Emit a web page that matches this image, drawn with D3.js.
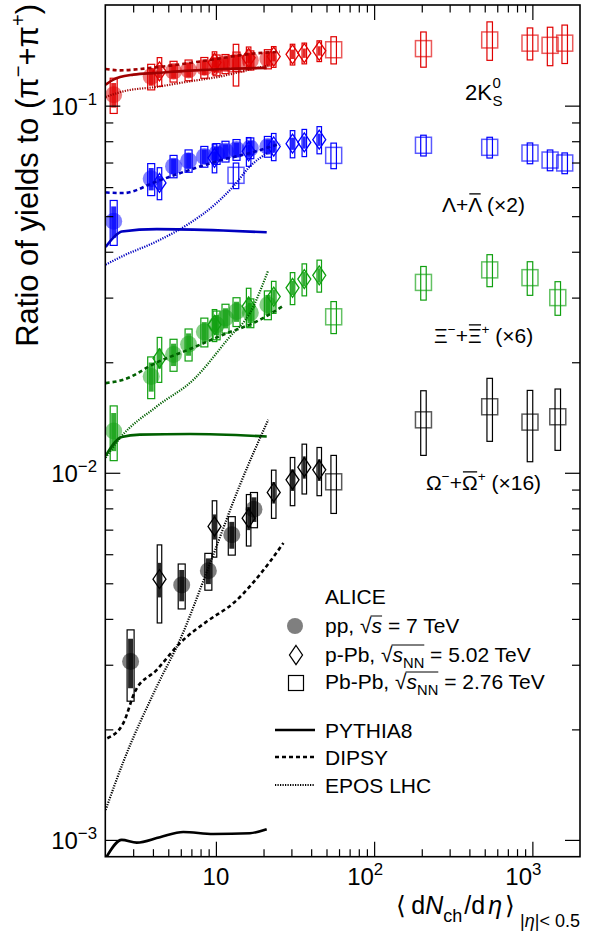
<!DOCTYPE html>
<html>
<head>
<meta charset="utf-8">
<script src="https://cdn.jsdelivr.net/npm/d3@7"></script>
<style>
  body { margin: 0; background: #fff; }
  svg { display: block; font-family: "Liberation Sans", Arial, Helvetica, sans-serif; }
</style>
</head>
<body>
<svg id="chart" width="592" height="936"></svg>
<script>
// ---------- multiplicity classes, <dNch/deta> at |eta| < 0.5 ----------
const ppMult      = [2.26, 3.90, 5.40, 6.72, 8.45, 10.1, 11.5, 13.5, 16.5, 21.3];
const ppMultOmega = [2.89, 6.08, 8.96, 12.6, 17.4];
const pPbMult     = [4.4, 9.8, 16.1, 23.2, 30.5, 36.2, 45.0];
const PbPbMultV0  = [13.4, 55.5, 205, 537.5, 966, 1294, 1601];
const PbPbMultMS  = [55.5, 205, 537.5, 966, 1447.5];

// ---------- yield ratios to (pi- + pi+), scale factors of the labels applied ----------
// values, and total systematic uncertainty (relative)
const k0sPP       = [0.107, 0.120, 0.124, 0.125, 0.127, 0.129, 0.130, 0.132, 0.133, 0.134];
const k0sPPSys    = [0.11, 0.08, 0.065, 0.065, 0.065, 0.065, 0.06, 0.06, 0.06, 0.06];
const k0sPPb      = [0.124, 0.131, 0.135, 0.136, 0.138, 0.139, 0.141];
const k0sPPbSys   = [0.09, 0.07, 0.07, 0.065, 0.065, 0.065, 0.065];
const k0sPbPb     = [0.130, 0.142, 0.143, 0.151, 0.148, 0.146, 0.148];
const k0sPbPbSys  = [0.13, 0.085, 0.11, 0.12, 0.10, 0.12, 0.12];

const lamPP       = [0.0484, 0.0632, 0.0684, 0.0708, 0.0727, 0.0740, 0.0751, 0.0759, 0.0767, 0.0774];
const lamPPSys    = [0.14, 0.10, 0.07, 0.07, 0.065, 0.065, 0.065, 0.065, 0.065, 0.065];
const lamPPb      = [0.0616, 0.0721, 0.0751, 0.0774, 0.0788, 0.0794, 0.0808];
const lamPPbSys   = [0.10, 0.09, 0.09, 0.085, 0.085, 0.085, 0.085];
const lamPbPb     = [0.0646, 0.0732, 0.0780, 0.0770, 0.0743, 0.0711, 0.0698];
const lamPbPbSys  = [0.08, 0.08, 0.065, 0.065, 0.065, 0.065, 0.065];

const xiPP        = [0.0130, 0.0183, 0.0210, 0.0224, 0.0242, 0.0253, 0.0264, 0.0275, 0.0273, 0.0287];
const xiPPSys     = [0.17, 0.13, 0.10, 0.10, 0.09, 0.09, 0.09, 0.09, 0.09, 0.09];
const xiPPb       = [0.0205, 0.0253, 0.0284, 0.0302, 0.0319, 0.0337, 0.0345];
const xiPPbSys    = [0.14, 0.10, 0.12, 0.10, 0.10, 0.10, 0.10];
const xiPbPb      = [0.0266, 0.0330, 0.0357, 0.0340, 0.0300];
const xiPbPbSys   = [0.10, 0.105, 0.10, 0.105, 0.105];

const omPP        = [0.00306, 0.00495, 0.00541, 0.00678, 0.00796];
const omPPSys     = [0.22, 0.14, 0.115, 0.12, 0.11];
const omPPb       = [0.00513, 0.00714, 0.00752, 0.00884, 0.00957, 0.01036, 0.01019];
const omPPbSys    = [0.24, 0.175, 0.16, 0.15, 0.15, 0.155, 0.15];
const omPbPb      = [0.00945, 0.01394, 0.01513, 0.01374, 0.01421];
const omPbPbSys   = [0.18, 0.20, 0.195, 0.22, 0.19];

// share of the systematic uncertainty that is uncorrelated across multiplicity
const uncorrShare = { pp: 0.7, pPb: 0.45 };

// ---------- model predictions for pp: [dNch/deta, ratio] ----------
const pythiaK0S = [[2.01,0.1141],[2.25,0.1177],[2.48,0.1197],[3.01,0.1215],[4.23,0.1228],[6.86,0.1246],[11.1,0.1259],[20.95,0.1267]];
const dipsyK0S  = [[2.01,0.1259],[2.48,0.1248],[3.87,0.1267],[6.86,0.1307],[11.1,0.1349],[16.4,0.1383],[25.4,0.1401]];
const eposK0S   = [[2.01,0.1056],[2.60,0.1094],[4.23,0.1125],[6.86,0.1165],[10.3,0.1197],[16.4,0.1254],[21.4,0.1285]];

const pythiaLam = [[2.01,0.0412],[2.25,0.0437],[2.54,0.0454],[4.23,0.0461],[11.1,0.0457],[20.95,0.0452]];
const dipsyLam  = [[2.01,0.0580],[2.60,0.0578],[4.23,0.0622],[6.86,0.0669],[11.1,0.0713],[16.4,0.0743],[25.4,0.0788]];
const eposLam   = [[2.01,0.0369],[2.60,0.0390],[4.23,0.0427],[6.86,0.0479],[10.1,0.0543],[12.9,0.0603],[16.4,0.0683],[21.4,0.0746]];

const pythiaXi  = [[2.01,0.01112],[2.54,0.01252],[3.31,0.01270],[6.86,0.01275],[20.95,0.01256]];
const dipsyXi   = [[2.01,0.01755],[2.60,0.01792],[4.23,0.01998],[6.86,0.02173],[11.1,0.02377],[18.1,0.02584],[26.7,0.0285]];
const eposXi    = [[2.01,0.01099],[2.48,0.01244],[4.23,0.01516],[7.20,0.01792],[12.3,0.02352],[16.4,0.02723],[21.4,0.03557]];

const pythiaOm  = [[2.04,0.00090],[2.54,0.00100],[3.16,0.000983],[4.43,0.001017],[6.22,0.001051],[9.63,0.001038],[16.4,0.001043],[20.95,0.001069]];
const dipsyOm   = [[2.06,0.001892],[2.60,0.00208],[3.08,0.002535],[4.23,0.002905],[5.93,0.003436],[8.75,0.003934],[12.9,0.004416],[22.0,0.005733],[26.7,0.006434]];
const eposOm    = [[2.01,0.001207],[2.60,0.001632],[4.23,0.002617],[5.93,0.003508],[8.96,0.005509],[14.2,0.009275],[21.4,0.01394]];

// ---------- axis ticks ----------
const xMajor = [10, 100, 1000];
const xMinor = [3,4,5,6,7,8,9, 20,30,40,50,60,70,80,90, 200,300,400,500,600,700,800,900];
const yMajor = [0.001, 0.01, 0.1];
const yMinor = [0.002,0.003,0.004,0.005,0.006,0.007,0.008,0.009,
                0.02,0.03,0.04,0.05,0.06,0.07,0.08,0.09];
const xTickLabels = [["10", ""], ["10", "2"], ["10", "3"]];
const yTickLabels = [["10", "\u22123"], ["10", "\u22122"], ["10", "\u22121"]];

// ---------- layout ----------
const L = 105.3, R = 580, T = 5, B = 856.7;
const svg = d3.select("#chart");
const x = d3.scaleLog().domain([2, 2000]).range([L, R]);
const y = d3.scaleLog().domain([0.0009, 0.188]).range([B, T]);

svg.append("defs").append("clipPath").attr("id", "frame")
  .append("rect").attr("x", L).attr("y", T).attr("width", R - L).attr("height", B - T);

// text with super/subscripts built from tspans
function richText(parent, px, py, parts, size, anchor) {
  const t = parent.append("text").attr("x", px).attr("y", py)
    .attr("font-size", size).attr("text-anchor", anchor || "start").attr("fill", "#000");
  let cur = 0, idx = 0;
  const marks = {};
  parts.forEach(p => {
    const off = p.sup ? -size * (p.up || 0.42) : p.sub ? size * (p.down || 0.3) : 0;
    const ts = t.append("tspan").attr("dy", off - cur).text(p.t);
    cur = off;
    if (p.sup || p.sub) ts.attr("font-size", size * (p.k || 0.72));
    if (p.it) ts.attr("font-style", "italic");
    if (p.dx) ts.attr("dx", p.dx);
    if (p.mark) marks[p.mark] = [idx, idx + p.t.length - 1];
    idx += p.t.length;
  });
  return { t, marks };
}
function barOver(parent, res, mark, yLine) {
  const [a, b] = res.marks[mark];
  const n = res.t.node();
  const e1 = n.getExtentOfChar(a), e2 = n.getExtentOfChar(b);
  parent.append("line").attr("x1", e1.x + 1).attr("x2", e2.x + e2.width - 0.5)
    .attr("y1", yLine).attr("y2", yLine).attr("stroke", "#000").attr("stroke-width", 1.3);
}

// ---------- species ----------
const speciesList = [
  { color: "#e00000", model: "#a00000",
    pp:   { x: ppMult,     y: k0sPP,   s: k0sPPSys },
    pPb:  { x: pPbMult,    y: k0sPPb,  s: k0sPPbSys },
    PbPb: { x: PbPbMultV0, y: k0sPbPb, s: k0sPbPbSys },
    pythia: pythiaK0S, dipsy: dipsyK0S, epos: eposK0S },
  { color: "#0000ff", model: "#0000c0",
    pp:   { x: ppMult,     y: lamPP,   s: lamPPSys },
    pPb:  { x: pPbMult,    y: lamPPb,  s: lamPPbSys },
    PbPb: { x: PbPbMultV0, y: lamPbPb, s: lamPbPbSys },
    pythia: pythiaLam, dipsy: dipsyLam, epos: eposLam },
  { color: "#10a010", model: "#006000",
    pp:   { x: ppMult,     y: xiPP,    s: xiPPSys },
    pPb:  { x: pPbMult,    y: xiPPb,   s: xiPPbSys },
    PbPb: { x: PbPbMultMS, y: xiPbPb,  s: xiPbPbSys },
    pythia: pythiaXi, dipsy: dipsyXi, epos: eposXi },
  { color: "#000000", model: "#000000",
    pp:   { x: ppMultOmega, y: omPP,   s: omPPSys },
    pPb:  { x: pPbMult,     y: omPPb,  s: omPPbSys },
    PbPb: { x: PbPbMultMS,  y: omPbPb, s: omPbPbSys },
    pythia: pythiaOm, dipsy: dipsyOm, epos: eposOm }
];

const plot = svg.append("g").attr("clip-path", "url(#frame)");

function boxes(g, ser, w, color, share, filled) {
  const idx = d3.range(ser.x.length);
  g.append("g").selectAll("rect").data(idx).join("rect")
    .attr("x", i => x(ser.x[i]) - w / 2)
    .attr("y", i => y(ser.y[i] * (1 + ser.s[i] * share)))
    .attr("width", w)
    .attr("height", i => y(ser.y[i] * (1 - ser.s[i] * share)) - y(ser.y[i] * (1 + ser.s[i] * share)))
    .attr("fill", filled ? color : "none")
    .attr("fill-opacity", filled ? 0.85 : null)
    .attr("stroke", filled ? "none" : color)
    .attr("stroke-width", 1.2);
}

const diamondPath = "M0,-9.5L6.5,0L0,9.5L-6.5,0Z";
const line = d3.line().x(d => x(d[0])).y(d => y(d[1])).curve(d3.curveMonotoneX);

speciesList.forEach(sp => {
  const g = plot.append("g");

  // pp: translucent full circles + boxes
  g.append("g").selectAll("circle").data(d3.range(sp.pp.x.length)).join("circle")
    .attr("cx", i => x(sp.pp.x[i])).attr("cy", i => y(sp.pp.y[i])).attr("r", 8.5)
    .attr("fill", sp.color).attr("fill-opacity", 0.5);
  boxes(g, sp.pp, 7, sp.color, 1, false);
  boxes(g, sp.pp, 5, sp.color, uncorrShare.pp, true);

  // p-Pb: open diamonds + narrow boxes
  boxes(g, sp.pPb, 4.5, sp.color, 1, false);
  boxes(g, sp.pPb, 3, sp.color, uncorrShare.pPb, true);
  g.append("g").selectAll("path").data(d3.range(sp.pPb.x.length)).join("path")
    .attr("transform", i => `translate(${x(sp.pPb.x[i])},${y(sp.pPb.y[i])})`)
    .attr("d", diamondPath).attr("fill", "none").attr("stroke", sp.color).attr("stroke-width", 1.3);

  // Pb-Pb: open squares + boxes
  boxes(g, sp.PbPb, 5.5, sp.color, 1, false);
  g.append("g").selectAll("rect").data(d3.range(sp.PbPb.x.length)).join("rect")
    .attr("x", i => x(sp.PbPb.x[i]) - 8).attr("y", i => y(sp.PbPb.y[i]) - 8)
    .attr("width", 16).attr("height", 16)
    .attr("fill", "none").attr("stroke", sp.color).attr("stroke-opacity", 0.65).attr("stroke-width", 1.5);

  // models
  g.append("path").attr("d", line(sp.pythia)).attr("fill", "none")
    .attr("stroke", sp.model).attr("stroke-width", 2.6);
  g.append("path").attr("d", line(sp.dipsy)).attr("fill", "none")
    .attr("stroke", sp.model).attr("stroke-width", 2.6).attr("stroke-dasharray", "4,3");
  g.append("path").attr("d", line(sp.epos)).attr("fill", "none")
    .attr("stroke", sp.model).attr("stroke-width", 2.2).attr("stroke-dasharray", "1.2,1.3");
});

// ---------- frame and ticks ----------
const axes = svg.append("g");
function tickAxis(gen, tx, ty, vals, size) {
  const a = axes.append("g").attr("transform", `translate(${tx},${ty})`)
    .call(gen.tickValues(vals).tickSize(-size).tickFormat(""));
  a.select(".domain").remove();
  a.selectAll("line").attr("stroke", "#000").attr("stroke-width", 1.2);
}
tickAxis(d3.axisBottom(x), 0, B, xMajor, 15);
tickAxis(d3.axisBottom(x), 0, B, xMinor, 7.5);
tickAxis(d3.axisTop(x), 0, T, xMajor, 15);
tickAxis(d3.axisTop(x), 0, T, xMinor, 7.5);
tickAxis(d3.axisLeft(y), L, 0, yMajor, 15);
tickAxis(d3.axisLeft(y), L, 0, yMinor, 8);
tickAxis(d3.axisRight(y), R, 0, yMajor, 15);
tickAxis(d3.axisRight(y), R, 0, yMinor, 8);

svg.append("rect").attr("x", L).attr("y", T).attr("width", R - L).attr("height", B - T)
  .attr("fill", "none").attr("stroke", "#000").attr("stroke-width", 1.6);

// tick labels
const labels = svg.append("g");
xMajor.forEach((v, i) => {
  const [base, exp] = xTickLabels[i];
  if (exp === "") richText(labels, x(v), 885, [{ t: base }], 24, "middle");
  else richText(labels, x(v) - 27, 885, [{ t: base }, { t: exp, sup: true, k: 0.7 }], 24, "start");
});
yMajor.forEach((v, i) => {
  const [base, exp] = yTickLabels[i];
  richText(labels, 97, y(v) + 9, [{ t: base }, { t: exp, sup: true, k: 0.7 }], 24, "end");
});

// axis titles
const yTitle = svg.append("g").attr("transform", "translate(38,4) rotate(-90)");
richText(yTitle, 0, 0, [
  { t: "Ratio of yields to (\u03C0" }, { t: "\u2212", sup: true, k: 0.65 },
  { t: "+\u03C0" }, { t: "+", sup: true, k: 0.65 }, { t: ")" }
], 31, "end");

richText(svg, 580, 914, [
  { t: "\u27E8" }, { t: "d", dx: 5 }, { t: "N", it: true }, { t: "ch", sub: true, k: 0.72 },
  { t: "/d", dx: 2 }, { t: "\u03B7", it: true, dx: 3 }, { t: "\u27E9", dx: 3 },
  { t: "|", sub: true, k: 0.72, down: 0.5, dx: 5 }, { t: "\u03B7", sub: true, it: true, k: 0.72, down: 0.5 },
  { t: "|< 0.5", sub: true, k: 0.72, down: 0.5 }
], 25, "end");

// ---------- species labels ----------
const spLab = svg.append("g");
{
  const r = richText(spLab, 465, 100, [{ t: "2K" }], 22, "start");
  const w = r.t.node().getComputedTextLength();
  richText(spLab, 465 + w + 0.5, 88, [{ t: "0" }], 15, "start");
  richText(spLab, 465 + w + 0.5, 106, [{ t: "S" }], 15, "start");
}
{
  const r = richText(spLab, 442, 212, [
    { t: "\u039B+" }, { t: "\u039B", mark: "bar" }, { t: " (\u00D72)" }
  ], 21, "start");
  barOver(spLab, r, "bar", 212 - 21 * 0.72 - 3);
}
{
  const r = richText(spLab, 434, 343, [
    { t: "\u039E" }, { t: "\u2212", sup: true, k: 0.65 }, { t: "+" },
    { t: "\u039E", mark: "bar" }, { t: "+", sup: true, k: 0.65 }, { t: " (\u00D76)" }
  ], 21, "start");
  barOver(spLab, r, "bar", 343 - 21 * 0.72 - 3);
}
{
  const r = richText(spLab, 426, 490, [
    { t: "\u03A9" }, { t: "\u2212", sup: true, k: 0.65 }, { t: "+" },
    { t: "\u03A9", mark: "bar" }, { t: "+", sup: true, k: 0.65 }, { t: " (\u00D716)" }
  ], 21, "start");
  barOver(spLab, r, "bar", 490 - 21 * 0.72 - 3);
}

// ---------- legend ----------
const leg = svg.append("g");
const LX = 325, FS = 21;
richText(leg, LX, 604, [{ t: "ALICE" }], FS);

function radicalBar(r, baseY) {
  const n = r.t.node();
  const e1 = n.getExtentOfChar(r.marks.rad[0]), e2 = n.getExtentOfChar(r.marks.arg[1]);
  leg.append("line").attr("x1", e1.x + e1.width - 1).attr("x2", e2.x + e2.width)
    .attr("y1", baseY - 17).attr("y2", baseY - 17).attr("stroke", "#000").attr("stroke-width", 1);
}

leg.append("circle").attr("cx", 295).attr("cy", 626).attr("r", 8).attr("fill", "#000").attr("fill-opacity", 0.5);
radicalBar(richText(leg, LX, 633, [{ t: "pp, " }, { t: "\u221A", mark: "rad" },
  { t: "s", it: true, mark: "arg" }, { t: " = 7 TeV" }], FS), 633);

leg.append("path").attr("transform", "translate(296,655)").attr("d", diamondPath)
  .attr("fill", "none").attr("stroke", "#000").attr("stroke-width", 1.3);
radicalBar(richText(leg, LX, 662, [{ t: "p-Pb, " }, { t: "\u221A", mark: "rad" }, { t: "s", it: true },
  { t: "NN", sub: true, k: 0.7, mark: "arg" }, { t: " = 5.02 TeV" }], FS), 662);

leg.append("rect").attr("x", 288.5).attr("y", 675.5).attr("width", 15).attr("height", 15)
  .attr("fill", "none").attr("stroke", "#000").attr("stroke-width", 1.2);
radicalBar(richText(leg, LX, 689, [{ t: "Pb-Pb, " }, { t: "\u221A", mark: "rad" }, { t: "s", it: true },
  { t: "NN", sub: true, k: 0.7, mark: "arg" }, { t: " = 2.76 TeV" }], FS), 689);

const modelLegend = [
  { name: "PYTHIA8", y: 730, w: 2.6, dash: null },
  { name: "DIPSY", y: 757, w: 2.6, dash: "4,3" },
  { name: "EPOS LHC", y: 785, w: 2.2, dash: "1.2,1.3" }
];
modelLegend.forEach(m => {
  leg.append("line").attr("x1", 275).attr("x2", 315).attr("y1", m.y).attr("y2", m.y)
    .attr("stroke", "#000").attr("stroke-width", m.w).attr("stroke-dasharray", m.dash);
  richText(leg, LX, m.y + 7.5, [{ t: m.name }], FS);
});
</script>
</body>
</html>
